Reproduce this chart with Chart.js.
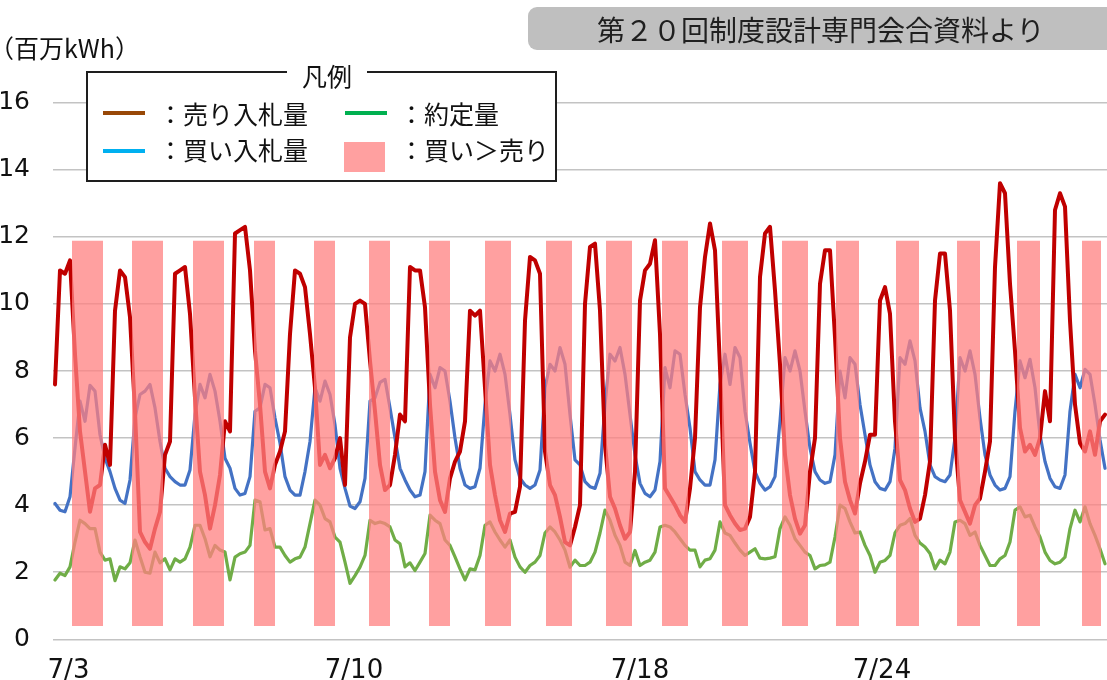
<!DOCTYPE html>
<html lang="ja">
<head>
<meta charset="utf-8">
<title>売り・買い入札量と約定量</title>
<script src="https://cdn.jsdelivr.net/npm/chart.js@4.4.1/dist/chart.umd.min.js"></script>
<style>
  html, body { margin: 0; padding: 0; background: #fff; }
  #wrap { position: relative; width: 1107px; height: 680px; overflow: hidden;
          font-family: 'Noto Sans CJK JP', sans-serif; color: #111; }
  #c { position: absolute; left: 0; top: 0; }
  .abs { position: absolute; white-space: nowrap; }
  .source { left: 528px; top: 7px; width: 620px; height: 43px; box-sizing: border-box;
            padding-left: 69px; padding-top: 1px; background: #bfbfbf; border-radius: 9px;
            font-size: 28px; line-height: 42px; color: #1f1f1f; }
  .unit { left: -11px; top: 35px; font-size: 25px; line-height: 25px; }
  .lgbox { left: 86px; top: 71px; width: 471px; height: 111px; box-sizing: border-box;
           border: 2px solid #1e1e1e; background: #fff; }
  .lgtitle { left: 287px; top: 63px; width: 80px; text-align: center; background: #fff;
             font-size: 25px; line-height: 25px; }
  .lgtext { font-size: 25px; line-height: 25px; }
  .sw { position: absolute; }
</style>
</head>
<body>
<div id="wrap">
  <canvas id="c" width="1107" height="680"></canvas>
  <div class="abs source">第２０回制度設計専門会合資料より</div>
  <div class="abs unit">（百万kWh）</div>
  <div class="abs lgbox"></div>
  <div class="abs lgtitle">凡例</div>
  <div class="sw" style="left:103px;top:111px;width:42px;height:4px;background:#984807"></div>
  <div class="abs lgtext" style="left:158px;top:101px">：売り入札量</div>
  <div class="sw" style="left:103px;top:149px;width:42px;height:4px;background:#00b0f0"></div>
  <div class="abs lgtext" style="left:158px;top:137px">：買い入札量</div>
  <div class="sw" style="left:345px;top:111px;width:42px;height:4px;background:#00b050"></div>
  <div class="abs lgtext" style="left:399px;top:101px">：約定量</div>
  <div class="sw" style="left:344px;top:142px;width:41px;height:30px;background:#ffa0a0"></div>
  <div class="abs lgtext" style="left:399px;top:137px">：買い＞売り</div>
</div>
<script>
// Evenly spaced samples (index 0..210) of the three volumes, in 百万kWh.
const sellBids = [
  7.6, 11.0, 10.9, 11.3, 8.5, 6.2, 5.0, 3.8, 4.5, 4.6,
  5.8, 5.2, 9.8, 11.0, 10.8, 9.6, 6.8, 3.2, 2.9, 2.7,
  3.3, 3.8, 5.5, 5.9, 10.9, 11.0, 11.1, 9.7, 7.2, 5.0,
  4.3, 3.3, 4.0, 4.9, 6.5, 6.2, 12.1, 12.2, 12.3, 11.0,
  8.6, 7.0, 5.0, 4.5, 5.2, 5.6, 6.2, 9.1, 11.0, 10.9,
  10.5, 9.1, 7.5, 5.2, 5.5, 5.1, 5.4, 6.0, 4.6, 9.0,
  10.0, 10.1, 10.0, 8.3, 6.8, 5.2, 4.45, 4.6, 5.5, 6.7,
  6.5, 11.1, 11.0, 11.0, 9.9, 7.0, 5.0, 4.15, 3.8, 4.8,
  5.3, 5.6, 6.5, 9.8, 9.65, 9.8, 7.5, 5.2, 4.3, 3.55,
  3.2, 3.75, 3.8, 4.55, 9.5, 11.4, 11.3, 10.9, 5.6, 4.6,
  4.3, 3.65, 2.9, 2.8, 3.35, 4.0, 10.0, 11.7, 11.8, 9.8,
  5.8, 4.25, 3.9, 3.4, 3.0, 3.2, 5.0, 10.1, 11.0, 11.2,
  11.9, 9.1, 4.5, 4.25, 4.0, 3.7, 3.5, 4.5, 6.0, 9.9,
  11.4, 12.4, 11.6, 8.1, 4.0, 3.7, 3.45, 3.26, 3.3, 3.65,
  5.0, 10.8, 12.1, 12.3, 10.4, 8.2, 5.5, 4.3, 3.6, 3.15,
  3.4, 5.0, 6.0, 10.6, 11.6, 11.6, 9.0, 6.0, 4.7, 4.15,
  3.75, 4.65, 5.3, 6.1, 6.1, 10.1, 10.5, 9.7, 6.5, 4.75,
  4.45, 3.9, 3.5, 3.6, 4.3, 5.3, 10.1, 11.5, 11.5, 9.8,
  6.0, 4.15, 3.8, 3.45, 4.0, 4.2, 5.0, 5.9, 11.1, 13.6,
  13.3, 10.6, 8.6, 6.3, 5.6, 5.8, 5.5, 6.0, 7.4, 6.5,
  12.8, 13.3, 12.9, 9.5, 7.0, 5.85, 5.6, 6.2, 5.5, 6.5,
  6.7
];

const buyBids = [
  4.05, 3.85, 3.8, 4.25, 5.7, 7.1, 6.5, 7.57, 7.4, 6.1,
  5.4, 5.0, 4.5, 4.15, 4.05, 4.75, 6.6, 7.3, 7.4, 7.6,
  6.9, 5.9, 5.1, 4.85, 4.7, 4.6, 4.6, 5.05, 6.7, 7.6,
  7.2, 7.9, 7.4, 6.5, 5.4, 5.1, 4.5, 4.3, 4.35, 4.85,
  6.8, 6.9, 7.6, 7.5, 6.6, 5.85, 4.85, 4.45, 4.3, 4.3,
  5.0, 5.9, 7.5, 7.1, 7.7, 7.3, 6.4, 5.1, 4.5, 3.97,
  3.9, 4.1, 4.8, 7.1, 7.2, 7.66, 7.75, 6.9, 6.0, 5.1,
  4.75, 4.45, 4.25, 4.3, 5.0, 7.9, 7.5, 8.1, 8.0, 7.1,
  6.0, 5.1, 4.6, 4.5, 4.55, 5.1, 7.0, 8.3, 8.0, 8.5,
  7.9, 6.7, 5.35, 4.8, 4.6, 4.5, 4.6, 5.05, 7.5, 8.2,
  8.0, 8.7, 8.2, 6.7, 5.35, 5.2, 4.7, 4.55, 4.5, 4.95,
  7.0, 8.5, 8.3, 8.7, 7.9, 6.7, 5.5, 4.65, 4.35, 4.25,
  4.45, 5.3, 8.1, 7.5, 8.6, 8.5, 7.3, 6.3, 5.0, 4.75,
  4.6, 4.6, 5.35, 7.6, 8.5, 7.6, 8.7, 8.4, 6.8, 5.85,
  5.0, 4.65, 4.45, 4.55, 4.85, 6.5, 8.4, 8.0, 8.6, 8.0,
  6.8, 5.7, 5.0, 4.75, 4.65, 4.7, 5.5, 8.0, 7.2, 8.4,
  8.2, 7.0, 6.1, 5.2, 4.7, 4.5, 4.45, 4.7, 5.7, 8.4,
  8.2, 8.9, 8.3, 6.9, 6.2, 5.2, 4.85, 4.75, 4.7, 4.9,
  6.0, 8.4, 8.0, 8.6, 7.9, 6.6, 5.5, 4.9, 4.6, 4.45,
  4.5, 4.85, 6.8, 8.3, 7.8, 8.35, 7.5, 6.1, 5.3, 4.8,
  4.55, 4.5, 4.9, 6.8, 7.9, 7.5, 8.05, 7.9, 7.0, 5.95,
  5.1
];

const contracted = [
  1.77, 1.97, 1.9, 2.16, 2.9, 3.55, 3.45, 3.3, 3.3, 2.6,
  2.36, 2.4, 1.75, 2.16, 2.1, 2.28, 2.96, 2.46, 2.0, 1.97,
  2.6, 2.28, 2.4, 2.07, 2.4, 2.3, 2.4, 2.75, 3.4, 3.4,
  3.0, 2.46, 2.8, 2.66, 2.6, 1.77, 2.45, 2.55, 2.6, 2.8,
  4.15, 4.1, 3.26, 3.3, 2.75, 2.75, 2.5, 2.3, 2.4, 2.45,
  2.75, 3.45, 4.15, 4.0, 3.6, 3.5, 3.05, 2.9, 2.3, 1.67,
  1.9, 2.15, 2.5, 3.55, 3.45, 3.5, 3.45, 3.35, 2.96, 2.85,
  2.16, 2.28, 2.05, 2.3, 2.56, 3.7, 3.55, 3.45, 2.96, 2.8,
  2.46, 2.1, 1.77, 2.1, 2.07, 2.5, 3.4, 3.5, 3.2, 2.96,
  2.75, 2.96, 2.45, 2.16, 2.0, 2.2, 2.3, 2.5, 3.17, 3.35,
  3.2, 2.96, 2.66, 2.15, 2.36, 2.2, 2.2, 2.3, 2.6, 3.17,
  3.85, 3.55, 3.1, 2.8, 2.3, 2.2, 2.65, 2.2, 2.3, 2.36,
  2.6, 3.35, 3.4, 3.35, 3.2, 3.0, 2.8, 2.66, 2.66, 2.16,
  2.36, 2.4, 2.66, 3.5, 3.17, 3.1, 2.87, 2.66, 2.5, 2.6,
  2.7, 2.42, 2.4, 2.42, 2.46, 3.3, 3.65, 3.4, 3.0, 2.8,
  2.6, 2.5, 2.1, 2.2, 2.22, 2.3, 3.05, 4.0, 3.9, 3.5,
  3.17, 3.2, 2.8, 2.5, 2.0, 2.3, 2.35, 2.5, 3.17, 3.4,
  3.45, 3.6, 3.1, 2.87, 2.75, 2.56, 2.1, 2.36, 2.25, 2.6,
  3.5, 3.55, 3.45, 3.1, 3.2, 2.8, 2.5, 2.2, 2.2, 2.4,
  2.5, 2.9, 3.85, 3.95, 3.65, 3.7, 3.35, 3.05, 2.6, 2.35,
  2.25, 2.3, 2.45, 3.3, 3.85, 3.5, 3.95, 3.45, 3.1, 2.7,
  2.25
];

// Periods where buy bids exceed sell bids, as sample positions (start, end).
const bandStart = [3.4, 15.4, 27.6, 39.8, 51.8, 62.8, 74.8, 86.0, 98.2,
                   110.2, 121.4, 133.4, 145.4, 156.2, 168.2, 180.4, 192.4, 205.4];
const bandEnd   = [9.6, 21.6, 33.8, 44.0, 56.0, 67.0, 79.0, 91.2, 103.4,
                   115.4, 126.6, 138.6, 150.6, 160.8, 172.8, 185.0, 197.0, 209.2];
const bandLow = 0.4;
const bandHigh = 11.88;

// Date labels on the horizontal axis and the sample positions they sit at.
const dateTickText = ['7/3', '7/10', '7/18', '7/24'];
const dateTickAt = [2.7, 59.8, 117, 165.4];

const yTickStep = 2;
const yMax = 16;

function toPoints(values) {
  return values.map((v, i) => ({ x: i, y: v }));
}

function bandPoints() {
  const pts = [];
  bandStart.forEach((s, k) => {
    pts.push({ x: s, y: bandHigh });
    pts.push({ x: bandEnd[k], y: bandHigh });
    pts.push({ x: bandEnd[k], y: null });
  });
  return pts;
}

const numFont = "'DejaVu Sans', 'Verdana', sans-serif";

function draw() {
  const ctx = document.getElementById('c').getContext('2d');
  new Chart(ctx, {
    type: 'line',
    data: {
      datasets: [
        {
          label: '買い＞売り',
          data: bandPoints(),
          borderColor: 'rgba(0,0,0,0)',
          borderWidth: 0,
          backgroundColor: 'rgba(255,128,128,0.75)',
          fill: { value: bandLow },
          pointRadius: 0,
          spanGaps: false
        },
        {
          label: '売り入札量',
          data: toPoints(sellBids),
          borderColor: '#c00000',
          borderWidth: 4,
          pointRadius: 0,
          fill: false
        },
        {
          label: '買い入札量',
          data: toPoints(buyBids),
          borderColor: '#4472c4',
          borderWidth: 3.2,
          pointRadius: 0,
          fill: false
        },
        {
          label: '約定量',
          data: toPoints(contracted),
          borderColor: '#70ad47',
          borderWidth: 3.2,
          pointRadius: 0,
          fill: false
        }
      ]
    },
    options: {
      responsive: false,
      animation: false,
      devicePixelRatio: 1,
      events: [],
      layout: { padding: { top: 102.7, left: 0, right: 0, bottom: 0 } },
      elements: {
        line: { tension: 0, borderJoinStyle: 'round', borderCapStyle: 'round' }
      },
      plugins: {
        legend: { display: false },
        tooltip: { enabled: false },
        title: { display: false }
      },
      scales: {
        x: {
          type: 'linear',
          min: -0.4,
          max: sellBids.length - 1 + 0.4,
          bounds: 'data',
          grid: { display: false },
          border: { display: false },
          afterBuildTicks: (scale) => {
            scale.ticks = dateTickAt.map(v => ({ value: v }));
          },
          afterFit: (scale) => { scale.height = 40.7; },
          ticks: {
            autoSkip: false,
            maxRotation: 0,
            minRotation: 0,
            padding: 8,
            color: '#111',
            font: { family: numFont, size: 26 },
            callback: (value) => {
              const k = dateTickAt.indexOf(value);
              return k >= 0 ? dateTickText[k] : '';
            }
          }
        },
        y: {
          min: 0,
          max: yMax,
          afterFit: (scale) => { scale.width = 53; },
          grid: { color: '#c3c3c3', lineWidth: 1.6, drawTicks: false },
          border: { display: false },
          ticks: {
            stepSize: yTickStep,
            padding: 23,
            color: '#111',
            font: { family: numFont, size: 25 }
          }
        }
      }
    }
  });
}

const fontLoads = [
  "25px 'DejaVu Sans'",
  "25px 'Noto Sans CJK JP'"
].map(f => (document.fonts && document.fonts.load) ? document.fonts.load(f) : Promise.resolve());
Promise.all(fontLoads).then(draw, draw);
</script>
</body>
</html>
